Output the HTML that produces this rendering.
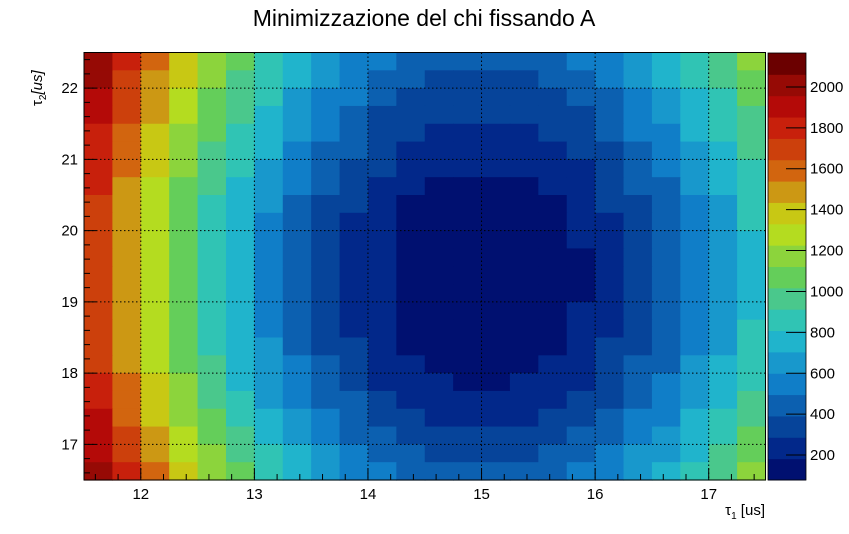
<!DOCTYPE html>
<html><head><meta charset="utf-8"><style>
html,body{margin:0;padding:0;background:#fff;}
svg{display:block;font-family:"Liberation Sans",sans-serif;}
</style></head><body>
<svg id="chart" width="849" height="534" viewBox="0 0 849 534" xmlns="http://www.w3.org/2000/svg">
<rect x="0" y="0" width="849" height="534" fill="#fff"/>
<text x="424" y="26" font-size="23" text-anchor="middle">Minimizzazione del chi fissando A</text>
<g id="cells"></g>
<g id="grid"></g>
<g id="axes"></g>
<g id="palette"></g>
<text x="765" y="515" font-size="15" text-anchor="end">τ<tspan font-size="10" dy="4">1</tspan><tspan dy="-4"> [us]</tspan></text>
<text transform="translate(42,106) rotate(-90)" font-size="15" text-anchor="start">τ<tspan font-size="10" dy="4">2</tspan><tspan dy="-4" font-style="italic">[us]</tspan></text>
</svg>
<script>
const xEdges = [11.5,11.75,12,12.25,12.5,12.75,13,13.25,13.5,13.75,14,14.25,14.5,14.75,15,15.25,15.5,15.75,16,16.25,16.5,16.75,17,17.25,17.5];
const yEdges = [22.5,22.25,22,21.75,21.5,21.25,21,20.75,20.5,20.25,20,19.75,19.5,19.25,19,18.75,18.5,18.25,18,17.75,17.5,17.25,17,16.75,16.5];
const zValues = [
[2011,1782,1577,1380,1200,1043,900,781,678,593,518,468,432,414,414,430,462,511,579,658,755,866,991,1130],
[1969,1740,1535,1338,1158,1001,858,739,636,551,476,426,390,372,372,388,420,469,537,616,713,824,949,1088],
[1926,1697,1492,1295,1115,958,815,696,593,508,433,383,347,329,329,345,377,426,494,573,670,781,906,1045],
[1884,1655,1450,1253,1073,916,773,654,551,466,391,341,305,287,287,303,335,384,452,531,628,739,864,1003],
[1851,1622,1417,1220,1040,883,740,621,518,433,358,308,272,254,254,270,302,351,419,498,595,706,831,970],
[1816,1587,1382,1185,1005,848,705,586,483,398,323,273,237,219,219,235,267,316,384,463,560,671,796,935],
[1781,1552,1347,1150,970,813,670,551,448,363,288,238,202,184,184,200,232,281,349,428,525,636,761,900],
[1750,1521,1316,1119,939,782,639,520,417,332,257,207,171,153,153,169,201,250,318,397,494,605,730,869],
[1724,1495,1290,1093,913,756,613,494,391,306,231,181,145,127,127,143,175,224,292,371,468,579,704,843],
[1704,1475,1270,1073,893,736,593,474,371,286,211,161,125,107,107,123,155,204,272,351,448,559,684,823],
[1689,1460,1255,1058,878,721,578,459,356,271,196,146,110,92,92,108,140,189,257,336,433,544,669,808],
[1680,1451,1246,1049,869,712,569,450,347,262,187,137,101,83,83,99,131,180,248,327,424,535,660,799],
[1677,1448,1243,1046,866,709,566,447,344,259,184,134,98,80,80,96,128,177,245,324,421,532,657,796],
[1679,1450,1245,1048,868,711,568,449,346,261,186,136,100,82,82,98,130,179,247,326,423,534,659,798],
[1687,1458,1253,1056,876,719,576,457,354,269,194,144,108,90,90,106,138,187,255,334,431,542,667,806],
[1701,1472,1267,1070,890,733,590,471,368,283,208,158,122,104,104,120,152,201,269,348,445,556,681,820],
[1720,1491,1286,1089,909,752,609,490,387,302,227,177,141,123,123,139,171,220,288,367,464,575,700,839],
[1745,1516,1311,1114,934,777,634,515,412,327,252,202,166,148,148,164,196,245,313,392,489,600,725,864],
[1775,1546,1341,1144,964,807,664,545,442,357,282,232,196,178,178,194,226,275,343,422,519,630,755,894],
[1811,1582,1377,1180,1000,843,700,581,478,393,318,268,232,214,214,230,262,311,379,458,555,666,791,930],
[1853,1624,1419,1222,1042,885,742,623,520,435,360,310,274,256,256,272,304,353,421,500,597,708,833,972],
[1900,1671,1466,1269,1089,932,789,670,567,482,407,357,321,303,303,319,351,400,468,547,644,755,880,1019],
[1953,1724,1519,1322,1142,985,842,723,620,535,460,410,374,356,356,372,404,453,521,600,697,808,933,1072],
[2011,1782,1577,1380,1200,1043,900,781,678,593,518,468,432,414,414,430,462,511,579,658,755,866,991,1130]
];
const zRange = [78, 2166];
const xTicks = [12,13,14,15,16,17];
const yTicks = [17,18,19,20,21,22];
const zTicks = [200,400,600,800,1000,1200,1400,1600,1800,2000];
const palette = ["#001070","#02288a","#06449a","#0c60b0","#107ec8","#1898cc","#20b4cc","#30c4b4","#4ac88c","#64ce5a","#8cd43c","#b4dc20","#c8c814","#cc9814","#d2650f","#cc400c","#c8200c","#b40a08","#960a05","#6b0000"];

const NS="http://www.w3.org/2000/svg";
const PX0=84, PX1=765.5, PY0=52.5, PY1=480;
const XMIN=11.5, XMAX=17.5, YMIN=16.5, YMAX=22.5;
const sx = v => PX0 + (v-XMIN)/(XMAX-XMIN)*(PX1-PX0);
const sy = v => PY1 - (v-YMIN)/(YMAX-YMIN)*(PY1-PY0);
const ZB0=480, ZB1=53;
const sz = v => ZB0 - (v-zRange[0])/(zRange[1]-zRange[0])*(ZB0-ZB1);
function band(v){let k=Math.floor((v-zRange[0])/(zRange[1]-zRange[0])*palette.length);return Math.max(0,Math.min(palette.length-1,k));}
function mk(tag,attrs,parent){const e=document.createElementNS(NS,tag);for(const k in attrs)e.setAttribute(k,attrs[k]);parent.appendChild(e);return e;}

const cells=document.getElementById('cells');
for(let j=0;j<zValues.length;j++){
  for(let i=0;i<zValues[j].length;i++){
    const x0=sx(xEdges[i]), x1=sx(xEdges[i+1]), y0=sy(yEdges[j]), y1=sy(yEdges[j+1]);
    const r=mk('rect',{x:x0,y:y0,width:x1-x0+0.6,height:y1-y0+0.6,fill:palette[band(zValues[j][i])]},cells);
    
    
  }
}
const grid=document.getElementById('grid');
xTicks.forEach(t=>{const l=mk('line',{x1:sx(t),x2:sx(t),y1:PY0,y2:PY1,stroke:'#000','stroke-width':1,'stroke-dasharray':'1.5,2.5'},grid);
  
  });
yTicks.forEach(t=>{const l=mk('line',{x1:PX0,x2:PX1,y1:sy(t),y2:sy(t),stroke:'#000','stroke-width':1,'stroke-dasharray':'1.5,2.5'},grid);
  
  });

const axes=document.getElementById('axes');
mk('rect',{x:PX0,y:PY0,width:PX1-PX0,height:PY1-PY0,fill:'none',stroke:'#000','stroke-width':1},axes);
for(let v=11.6;v<17.5;v+=0.2){const m=Math.abs(v-Math.round(v))<0.01;
  mk('line',{x1:sx(v),x2:sx(v),y1:PY1,y2:PY1-(m?12:6),stroke:'#000'},axes);}
for(let v=16.6;v<22.5;v+=0.2){const m=Math.abs(v-Math.round(v))<0.01;
  mk('line',{x1:PX0,x2:PX0+(m?12:6),y1:sy(v),y2:sy(v),stroke:'#000'},axes);}
xTicks.forEach(t=>{const e=mk('text',{x:sx(t),y:499,'font-size':15,'text-anchor':'middle'},axes);e.textContent=t;
  
  });
yTicks.forEach(t=>{const e=mk('text',{x:78,y:sy(t)+5,'font-size':15,'text-anchor':'end'},axes);e.textContent=t;
  
  });

const pal=document.getElementById('palette');
const bh=(ZB0-ZB1)/palette.length;
palette.forEach((c,k)=>{const r=mk('rect',{x:768,y:ZB0-(k+1)*bh,width:38,height:bh+0.5,fill:c},pal);
  
  });
mk('rect',{x:768,y:ZB1,width:38,height:ZB0-ZB1,fill:'none',stroke:'#000','stroke-width':0.8},pal);
zTicks.forEach(t=>{mk('line',{x1:786,x2:806,y1:sz(t),y2:sz(t),stroke:'#000'},pal);
  const e=mk('text',{x:810,y:sz(t)+5,'font-size':15},pal);e.textContent=t;
  
  });
</script>
</body></html>
